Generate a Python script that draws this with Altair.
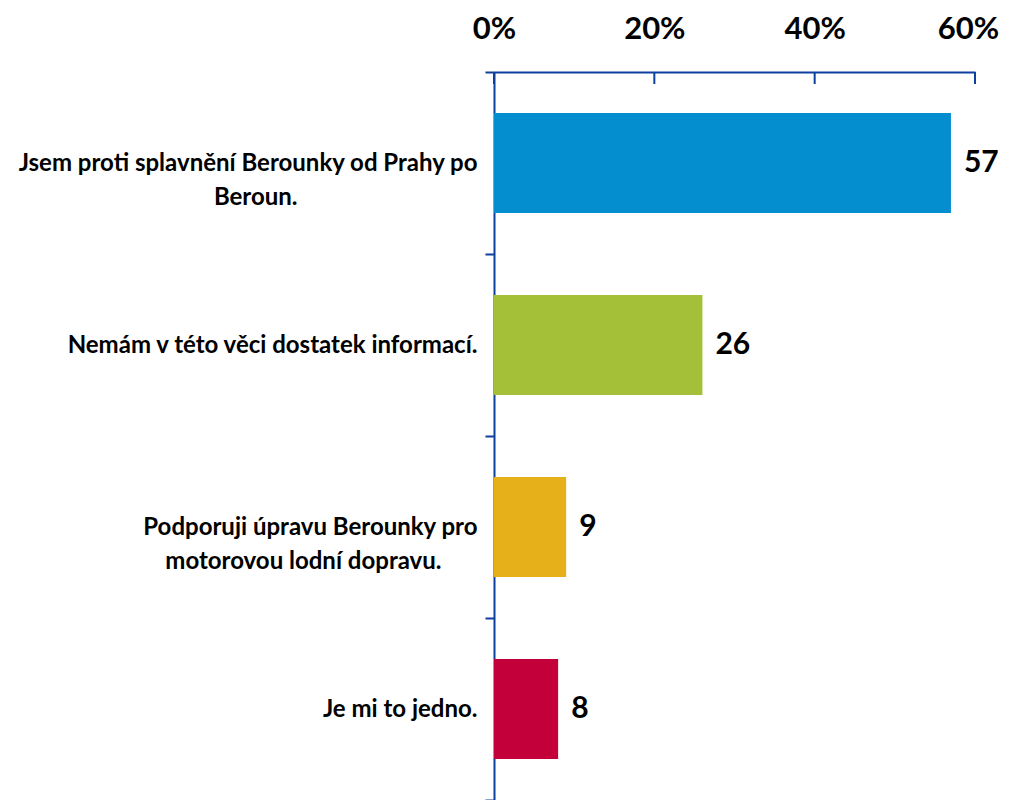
import altair as alt
import pandas as pd

categories = [
    "Jsem proti splavnění Berounky od Prahy po|Beroun.",
    "Nemám v této věci dostatek informací.",
    "Podporuji úpravu Berounky pro|motorovou lodní dopravu.",
    "Je mi to jedno.",
]
values = [57, 26, 9, 8]
colors = ["#048dcf", "#a3c038", "#e6b01a", "#c4003b"]
tick_values = [0, 20, 40, 60]

# blank filler glyphs appended to a second label line so that it sits centred under the first
FILL = "\u2800"
line2_pad = {"Jsem": 10, "Podporuji": 2}

df = pd.DataFrame({"cat": categories, "val": values, "color": colors})
ticks_df = pd.DataFrame({"t": tick_values})

AXIS_COLOR = "#0d3f9f"
FONT = "Lato"

label_expr = (
    "indexof(datum.label, 'Jsem') == 0 ? [split(datum.label, '|')[0], split(datum.label, '|')[1] + '"
    + FILL * line2_pad["Jsem"]
    + "'] : indexof(datum.label, 'Podporuji') == 0 ? [split(datum.label, '|')[0], split(datum.label, '|')[1] + '"
    + FILL * line2_pad["Podporuji"]
    + "'] : datum.label"
)

x_scale = alt.Scale(domain=[0, 60], nice=False)
y_scale = alt.Scale(domain=categories, paddingInner=0, paddingOuter=0)

base = alt.Chart(df)

bars = base.mark_bar(height={"band": 0.55}).encode(
    x=alt.X(
        "val:Q",
        scale=x_scale,
        axis=alt.Axis(
            orient="top",
            values=tick_values,
            labelExpr="datum.value + '%'",
            title=None,
            grid=False,
            domainColor=AXIS_COLOR,
            domainWidth=2,
            tickSize=0,
            labelFlush=False,
            labelBaseline="alphabetic",
            labelPadding=34,
            labelOffset={"condition": {"test": "datum.value == 60", "value": -7}, "value": 0},
            labelFont=FONT,
            labelFontWeight="bold",
            labelFontSize=31,
            labelColor="#000000",
        ),
    ),
    y=alt.Y(
        "cat:N",
        scale=y_scale,
        sort=categories,
        axis=alt.Axis(
            title=None,
            tickBand="extent",
            domainColor=AXIS_COLOR,
            domainWidth=2,
            tickColor=AXIS_COLOR,
            tickWidth=2,
            tickSize=9,
            labelPadding=8,
            labelAlign="right",
            labelExpr=label_expr,
            labelFont=FONT,
            labelFontWeight="bold",
            labelFontSize=24,
            labelLineHeight=34,
            labelColor="#000000",
            labelLimit=0,
        ),
    ),
    color=alt.Color("color:N", scale=None),
)

texts = base.mark_text(
    align="left", baseline="middle", dx=13, font=FONT, fontWeight="bold", fontSize=30, color="#000000"
).encode(
    x=alt.X("val:Q", scale=x_scale),
    y=alt.Y("cat:N", scale=y_scale, sort=categories),
    text=alt.Text("val:Q"),
)

inner_ticks = alt.Chart(ticks_df).mark_rule(color=AXIS_COLOR, strokeWidth=2).encode(
    x=alt.X("t:Q", scale=x_scale),
    y=alt.value(0),
    y2=alt.value(12),
)

chart = (
    alt.layer(bars, texts, inner_ticks)
    .properties(
        width=481,
        height=728,
        autosize=alt.AutoSizeParams(type="none"),
        padding={"left": 486, "top": 64, "right": 25, "bottom": 0},
    )
    .configure_view(stroke=None)
)

chart.save("out.html", embed_options={"renderer": "svg", "actions": False})
